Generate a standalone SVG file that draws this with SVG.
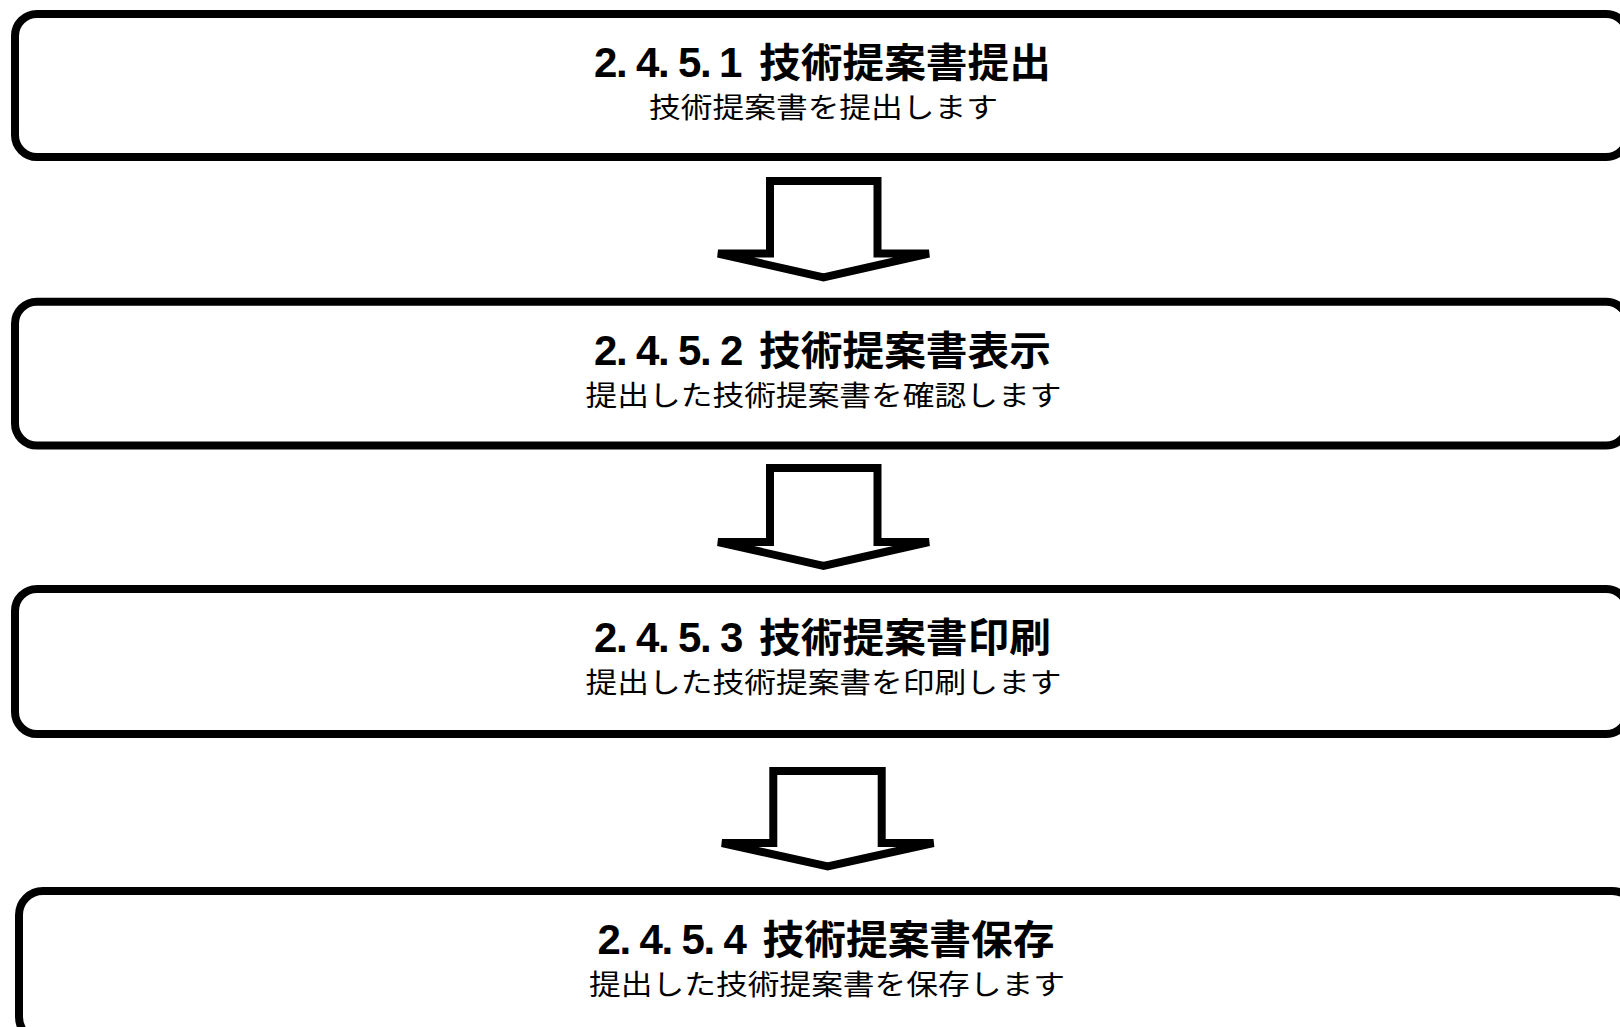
<svg xmlns="http://www.w3.org/2000/svg" width="1620" height="1027" viewBox="0 0 1620 1027">
<style>
.box{fill:#fff;stroke:#000;stroke-width:8}
.arr{fill:#fff;stroke:#000;stroke-width:8;stroke-linejoin:miter;stroke-miterlimit:4}
.num{font-family:"Liberation Sans",Arial,sans-serif;font-weight:bold;font-size:42px;fill:#000}
.ttl{font-family:"Noto Sans CJK JP",sans-serif;font-weight:bold;font-size:40px;fill:#000}
.sub{font-family:"Noto Sans CJK JP",sans-serif;font-size:28px;fill:#000;text-anchor:middle}
</style>
<rect x="0" y="0" width="1620" height="1027" fill="#fff"/>
<g id="node1">
<rect class="box" x="15" y="14" width="1613" height="143" rx="22"/>
<text y="77"><tspan class="num" x="594 616 636 658 678 700 719">2.4.5.1</tspan><tspan class="ttl" x="759" textLength="292" lengthAdjust="spacingAndGlyphs">技術提案書提出</tspan></text>
<text class="sub" x="823.5" y="118" textLength="349" lengthAdjust="spacingAndGlyphs">技術提案書を提出します</text>
</g>
<g id="node2">
<rect class="box" x="15" y="301.7" width="1613" height="143.8" rx="22"/>
<text y="365"><tspan class="num" x="594 616 636 658 678 700 720">2.4.5.2</tspan><tspan class="ttl" x="759" textLength="292" lengthAdjust="spacingAndGlyphs">技術提案書表示</tspan></text>
<text class="sub" x="823.5" y="406" textLength="476" lengthAdjust="spacingAndGlyphs">提出した技術提案書を確認します</text>
</g>
<g id="node3">
<rect class="box" x="15" y="589" width="1613" height="145" rx="22"/>
<text y="652"><tspan class="num" x="594 616 636 658 678 700 720">2.4.5.3</tspan><tspan class="ttl" x="759" textLength="292" lengthAdjust="spacingAndGlyphs">技術提案書印刷</tspan></text>
<text class="sub" x="823.5" y="693" textLength="476" lengthAdjust="spacingAndGlyphs">提出した技術提案書を印刷します</text>
</g>
<g id="node4">
<rect class="box" x="19" y="891" width="1617" height="150" rx="24"/>
<text y="954"><tspan class="num" x="597.5 619.5 639.5 661.5 681.5 703.5 723.5">2.4.5.4</tspan><tspan class="ttl" x="762.5" textLength="292" lengthAdjust="spacingAndGlyphs">技術提案書保存</tspan></text>
<text class="sub" x="827" y="995" textLength="476" lengthAdjust="spacingAndGlyphs">提出した技術提案書を保存します</text>
</g>
<g id="connectors">
<path class="arr" d="M770,181 H877.5 V253.5 H929 L823.5,277.5 L718,253.5 H770 Z"/>
<path class="arr" d="M770,468 H877.5 V542 H929 L823.5,566 L718,542 H770 Z"/>
<path class="arr" d="M773.3,771 H881.7 V843 H933.5 L827.7,866.5 L722,843 H773.3 Z"/>
</g>
</svg>
